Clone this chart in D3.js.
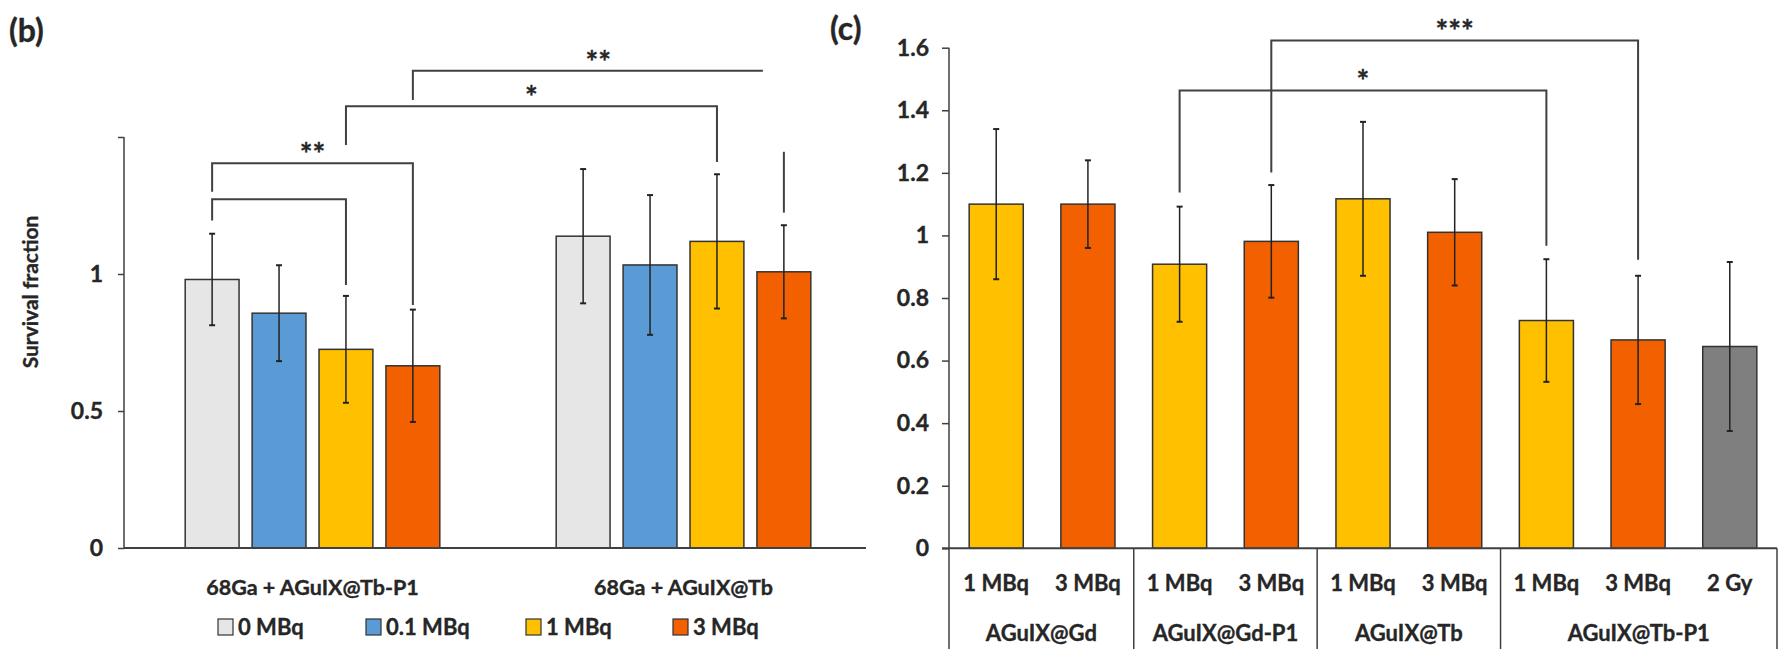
<!DOCTYPE html>
<meta charset="utf-8">
<style>
html, body {
  margin: 0;
  overflow: hidden;
  background: #fff;
}
svg text {
  font-family: Lato, "Open Sans", sans-serif;
  font-weight: bold;
  fill: #262626;
  stroke: #262626;
  stroke-width: 0.35px;
}
</style>
<body>
<script src="https://cdn.jsdelivr.net/npm/d3@7"></script>
<script>
var width = 1787,
    height = 649;

// panel (b)
var groupsB = ["68Ga + AGuIX@Tb-P1", "68Ga + AGuIX@Tb"];
var seriesB = ["0 MBq", "0.1 MBq", "1 MBq", "3 MBq"];
var valuesB = [
  [0.98, 0.857, 0.725, 0.665],
  [1.138, 1.033, 1.119, 1.008]
];
var errorsB = [
  [0.167, 0.175, 0.195, 0.205],
  [0.245, 0.255, 0.245, 0.17]
];
var ticksB = [0, 0.5, 1, 1.5];
var tickLabelsB = ["0", "0.5", "1", ""];
var colorsB = ["#e6e6e6", "#5b9bd5", "#ffc000", "#f26000"];

// brackets: [group, series] from, to, top value, left leg end, right leg end, label
var bracketsB = [
  {from: [0, 0], to: [0, 2], top: 1.273, l: 1.195, r: 0.96, label: ""},
  {from: [0, 0], to: [0, 3], top: 1.404, l: 1.30, r: 0.887, label: "**"},
  {from: [0, 2], to: [1, 2], top: 1.612, l: 1.471, r: 1.409, label: "*"},
  {from: [0, 3], to: [1, 3], top: 1.742, l: 1.635, r: null, label: "**"}
];
// loose leg under the last bracket
var looseLegB = {at: [1, 3], from: 1.446, to: 1.224};

// panel (c)
var subLabelsC = ["1 MBq", "3 MBq", "1 MBq", "3 MBq", "1 MBq", "3 MBq", "1 MBq", "3 MBq", "2 Gy"];
var groupsC = ["AGuIX@Gd", "AGuIX@Gd-P1", "AGuIX@Tb", "AGuIX@Tb-P1"];
var groupSizeC = [2, 2, 2, 3];
var valuesC = [1.10, 1.10, 0.908, 0.981, 1.117, 1.010, 0.728, 0.666, 0.645];
var errorsC = [0.24, 0.14, 0.184, 0.18, 0.246, 0.17, 0.196, 0.205, 0.27];
var colorsC = ["#ffc000", "#f26000", "#ffc000", "#f26000", "#ffc000", "#f26000", "#ffc000", "#f26000", "#7f7f7f"];
var ticksC = [0, 0.2, 0.4, 0.6, 0.8, 1, 1.2, 1.4, 1.6];
var bracketsC = [
  {from: 2, to: 6, top: 1.463, l: 1.137, r: 0.967, label: "*"},
  {from: 3, to: 7, top: 1.623, l: 1.201, r: 0.922, label: "***"}
];

var svg = d3.select("body").append("svg")
    .attr("width", width)
    .attr("height", height);

var lineColor = "#404040";

// ---------- panel (b) ----------
var yB = d3.scaleLinear().domain([0, 1.5]).range([548, 137]);
var xB = d3.scaleBand().domain(d3.range(groupsB.length)).range([127, 869]);
var xInner = d3.scaleBand().domain(d3.range(seriesB.length))
    .range([-134, 134]).paddingInner(0.195).paddingOuter(0.1);

function cxB(g, s) {
  return xB(g) + xB.bandwidth() / 2 + xInner(s) + xInner.bandwidth() / 2;
}

var pb = svg.append("g");

pb.append("text").attr("x", 9).attr("y", 42)
  .style("font-size", "32px").text("(b)");

var axB = pb.append("g").attr("transform", "translate(124,0)")
  .call(d3.axisLeft(yB).tickValues(ticksB).tickSize(6)
    .tickFormat(function(d, i) { return tickLabelsB[i]; }));
axB.select(".domain").remove();
axB.selectAll(".tick line").attr("stroke", lineColor).attr("stroke-width", 1.5);
axB.selectAll(".tick text").attr("x", -21).style("font-size", "23px")
  .style("font-family", "Lato, sans-serif").attr("fill", "#262626");
pb.append("line").attr("x1", 124).attr("x2", 124)
  .attr("y1", yB(1.5)).attr("y2", yB(0))
  .attr("stroke", lineColor).attr("stroke-width", 1.5);

pb.append("text")
  .attr("transform", "translate(38," + 292 + ") rotate(-90)")
  .attr("text-anchor", "middle")
  .style("font-size", "21px").text("Survival fraction");

groupsB.forEach(function(gname, g) {
  seriesB.forEach(function(sname, s) {
    var v = valuesB[g][s], e = errorsB[g][s], cx = cxB(g, s);
    pb.append("rect")
      .attr("x", cx - xInner.bandwidth() / 2)
      .attr("width", xInner.bandwidth())
      .attr("y", yB(v))
      .attr("height", yB(0) - yB(v))
      .attr("fill", colorsB[s])
      .attr("stroke", "#333").attr("stroke-width", 1.5);
    drawErr(pb, cx, yB(v + e), yB(v - e));
  });
  pb.append("text")
    .attr("x", xB(g) + xB.bandwidth() / 2)
    .attr("y", 595)
    .attr("text-anchor", "middle")
    .style("font-size", "21.5px").text(gname);
});

pb.append("line").attr("x1", 124).attr("x2", 866)
  .attr("y1", yB(0)).attr("y2", yB(0))
  .attr("stroke", lineColor).attr("stroke-width", 2);

bracketsB.forEach(function(b) {
  var x1 = cxB(b.from[0], b.from[1]), x2 = cxB(b.to[0], b.to[1]);
  var path = d3.path();
  path.moveTo(x1, yB(b.l));
  path.lineTo(x1, yB(b.top));
  if (b.r === null) {
    path.lineTo(x2 - 21, yB(b.top));
  } else {
    path.lineTo(x2, yB(b.top));
    path.lineTo(x2, yB(b.r));
  }
  pb.append("path").attr("d", path.toString())
    .attr("fill", "none").attr("stroke", lineColor).attr("stroke-width", 2);
  if (b.label) {
    pb.append("text").attr("x", (x1 + x2) / 2).attr("y", yB(b.top) + 2)
      .attr("text-anchor", "middle").style("font-size", "30px").text(b.label);
  }
});
pb.append("line")
  .attr("x1", cxB(looseLegB.at[0], looseLegB.at[1]))
  .attr("x2", cxB(looseLegB.at[0], looseLegB.at[1]))
  .attr("y1", yB(looseLegB.from)).attr("y2", yB(looseLegB.to))
  .attr("stroke", lineColor).attr("stroke-width", 2);

// legend
var legendX = [218, 366, 526, 673];
seriesB.forEach(function(sname, s) {
  pb.append("rect").attr("x", legendX[s]).attr("y", 619)
    .attr("width", 15).attr("height", 16)
    .attr("fill", colorsB[s]).attr("stroke", "#333").attr("stroke-width", 1.2);
  pb.append("text").attr("x", legendX[s] + 20).attr("y", 635)
    .style("font-size", "22px").text(sname);
});

// ---------- panel (c) ----------
var yC = d3.scaleLinear().domain([0, 1.6]).range([548.3, 47.7]);
var xC = d3.scaleBand().domain(d3.range(valuesC.length))
    .range([949, 1777]).paddingInner(0.41).paddingOuter(0.22);

var pc = svg.append("g");

pc.append("text").attr("x", 830).attr("y", 40)
  .style("font-size", "32px").text("(c)");

var axC = pc.append("g").attr("transform", "translate(949,0)")
  .call(d3.axisLeft(yC).tickValues(ticksC).tickSize(7)
    .tickFormat(function(d) { return d3.format("")(+d.toFixed(1)); }));
axC.select(".domain").remove();
axC.selectAll(".tick line").attr("stroke", lineColor).attr("stroke-width", 1.5);
axC.selectAll(".tick text").attr("x", -20).style("font-size", "23px")
  .style("font-family", "Lato, sans-serif").attr("fill", "#262626");
pc.append("line").attr("x1", 949).attr("x2", 949)
  .attr("y1", yC(1.6)).attr("y2", height)
  .attr("stroke", lineColor).attr("stroke-width", 1.5);

valuesC.forEach(function(v, i) {
  var e = errorsC[i], cx = xC(i) + xC.bandwidth() / 2;
  pc.append("rect")
    .attr("x", xC(i)).attr("width", xC.bandwidth())
    .attr("y", yC(v)).attr("height", yC(0) - yC(v))
    .attr("fill", colorsC[i])
    .attr("stroke", "#333").attr("stroke-width", 1.5);
  drawErr(pc, cx, yC(v + e), yC(v - e));
  pc.append("text").attr("x", cx).attr("y", 591)
    .attr("text-anchor", "middle").style("font-size", "22px").text(subLabelsC[i]);
});

pc.append("line").attr("x1", 942).attr("x2", 1777)
  .attr("y1", yC(0)).attr("y2", yC(0))
  .attr("stroke", lineColor).attr("stroke-width", 2);

// group separators and group names
var step = xC.step(), start = 0;
var bounds = [949];
groupsC.forEach(function(gname, k) {
  var end = start + groupSizeC[k];
  var right = (k === groupsC.length - 1) ? 1777 : xC(end) - step * xC.paddingInner() / 2;
  bounds.push(right);
  pc.append("text").attr("x", (bounds[k] + right) / 2).attr("y", 641)
    .attr("text-anchor", "middle").style("font-size", "22px").text(gname);
  start = end;
});
bounds.slice(1).forEach(function(bx) {
  pc.append("line").attr("x1", bx).attr("x2", bx)
    .attr("y1", yC(0)).attr("y2", height)
    .attr("stroke", lineColor).attr("stroke-width", 1.5);
});

bracketsC.forEach(function(b) {
  var x1 = xC(b.from) + xC.bandwidth() / 2, x2 = xC(b.to) + xC.bandwidth() / 2;
  var path = d3.path();
  path.moveTo(x1, yC(b.l));
  path.lineTo(x1, yC(b.top));
  path.lineTo(x2, yC(b.top));
  path.lineTo(x2, yC(b.r));
  pc.append("path").attr("d", path.toString())
    .attr("fill", "none").attr("stroke", lineColor).attr("stroke-width", 2);
  pc.append("text").attr("x", (x1 + x2) / 2).attr("y", yC(b.top) + 1)
    .attr("text-anchor", "middle").style("font-size", "30px").text(b.label);
});

function drawErr(g, cx, yTop, yBot) {
  g.append("line").attr("x1", cx).attr("x2", cx)
    .attr("y1", yTop).attr("y2", yBot)
    .attr("stroke", "#222").attr("stroke-width", 1.5);
  [yTop, yBot].forEach(function(yy) {
    g.append("line").attr("x1", cx - 3).attr("x2", cx + 3)
      .attr("y1", yy).attr("y2", yy)
      .attr("stroke", "#222").attr("stroke-width", 2);
  });
}
</script>
</body>
